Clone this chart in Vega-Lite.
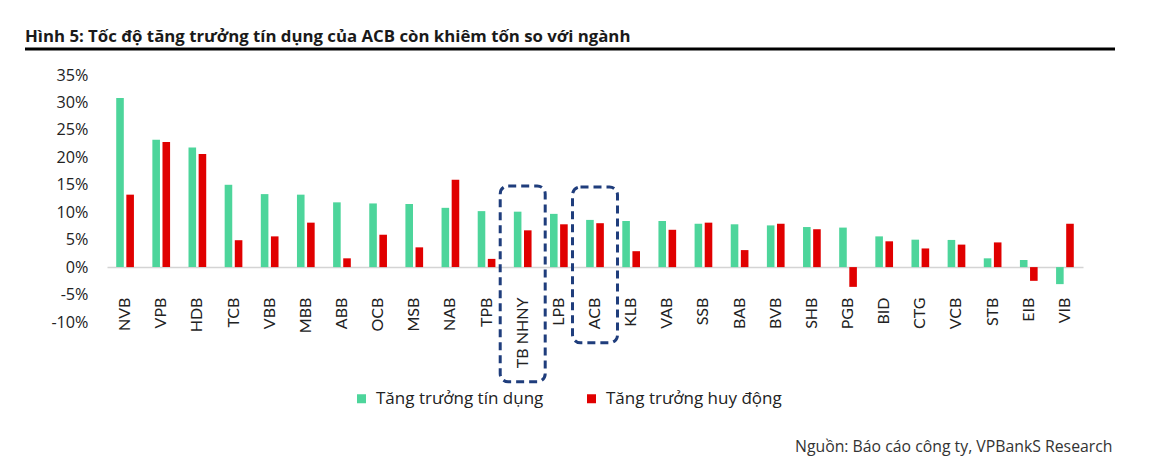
{
  "$schema": "https://vega.github.io/schema/vega-lite/v6.json",
  "width": 976,
  "height": 247,
  "autosize": {"type": "none"},
  "padding": {"left": 107, "top": 75, "right": 72, "bottom": 135},
  "background": "white",
  "config": {
    "view": {"stroke": null},
    "font": "Open Sans"
  },
  "title": {
    "text": "Hình 5: Tốc độ tăng trưởng tín dụng của ACB còn khiêm tốn so với ngành",
    "anchor": "start",
    "frame": "group",
    "dx": -82,
    "offset": -6,
    "baseline": "middle",
    "font": "Open Sans",
    "fontSize": 16.8,
    "fontWeight": "bold",
    "color": "#1a1a1a"
  },
  "layer": [
    {
      "layer": [
        {
          "data": {
            "values": [
              {"bank": "NVB", "series": "Tăng trưởng tín dụng", "value": 30.8},
              {"bank": "NVB", "series": "Tăng trưởng huy động", "value": 13.2},
              {"bank": "VPB", "series": "Tăng trưởng tín dụng", "value": 23.2},
              {"bank": "VPB", "series": "Tăng trưởng huy động", "value": 22.8},
              {"bank": "HDB", "series": "Tăng trưởng tín dụng", "value": 21.8},
              {"bank": "HDB", "series": "Tăng trưởng huy động", "value": 20.6},
              {"bank": "TCB", "series": "Tăng trưởng tín dụng", "value": 15.0},
              {"bank": "TCB", "series": "Tăng trưởng huy động", "value": 4.9},
              {"bank": "VBB", "series": "Tăng trưởng tín dụng", "value": 13.3},
              {"bank": "VBB", "series": "Tăng trưởng huy động", "value": 5.6},
              {"bank": "MBB", "series": "Tăng trưởng tín dụng", "value": 13.2},
              {"bank": "MBB", "series": "Tăng trưởng huy động", "value": 8.1},
              {"bank": "ABB", "series": "Tăng trưởng tín dụng", "value": 11.8},
              {"bank": "ABB", "series": "Tăng trưởng huy động", "value": 1.6},
              {"bank": "OCB", "series": "Tăng trưởng tín dụng", "value": 11.6},
              {"bank": "OCB", "series": "Tăng trưởng huy động", "value": 5.9},
              {"bank": "MSB", "series": "Tăng trưởng tín dụng", "value": 11.5},
              {"bank": "MSB", "series": "Tăng trưởng huy động", "value": 3.6},
              {"bank": "NAB", "series": "Tăng trưởng tín dụng", "value": 10.8},
              {"bank": "NAB", "series": "Tăng trưởng huy động", "value": 15.9},
              {"bank": "TPB", "series": "Tăng trưởng tín dụng", "value": 10.2},
              {"bank": "TPB", "series": "Tăng trưởng huy động", "value": 1.5},
              {"bank": "TB NHNY", "series": "Tăng trưởng tín dụng", "value": 10.1},
              {"bank": "TB NHNY", "series": "Tăng trưởng huy động", "value": 6.7},
              {"bank": "LPB", "series": "Tăng trưởng tín dụng", "value": 9.7},
              {"bank": "LPB", "series": "Tăng trưởng huy động", "value": 7.8},
              {"bank": "ACB", "series": "Tăng trưởng tín dụng", "value": 8.6},
              {"bank": "ACB", "series": "Tăng trưởng huy động", "value": 8.0},
              {"bank": "KLB", "series": "Tăng trưởng tín dụng", "value": 8.4},
              {"bank": "KLB", "series": "Tăng trưởng huy động", "value": 2.9},
              {"bank": "VAB", "series": "Tăng trưởng tín dụng", "value": 8.4},
              {"bank": "VAB", "series": "Tăng trưởng huy động", "value": 6.8},
              {"bank": "SSB", "series": "Tăng trưởng tín dụng", "value": 7.9},
              {"bank": "SSB", "series": "Tăng trưởng huy động", "value": 8.1},
              {"bank": "BAB", "series": "Tăng trưởng tín dụng", "value": 7.8},
              {"bank": "BAB", "series": "Tăng trưởng huy động", "value": 3.1},
              {"bank": "BVB", "series": "Tăng trưởng tín dụng", "value": 7.6},
              {"bank": "BVB", "series": "Tăng trưởng huy động", "value": 7.9},
              {"bank": "SHB", "series": "Tăng trưởng tín dụng", "value": 7.3},
              {"bank": "SHB", "series": "Tăng trưởng huy động", "value": 6.9},
              {"bank": "PGB", "series": "Tăng trưởng tín dụng", "value": 7.2},
              {"bank": "PGB", "series": "Tăng trưởng huy động", "value": -3.6},
              {"bank": "BID", "series": "Tăng trưởng tín dụng", "value": 5.6},
              {"bank": "BID", "series": "Tăng trưởng huy động", "value": 4.7},
              {"bank": "CTG", "series": "Tăng trưởng tín dụng", "value": 5.0},
              {"bank": "CTG", "series": "Tăng trưởng huy động", "value": 3.4},
              {"bank": "VCB", "series": "Tăng trưởng tín dụng", "value": 4.95},
              {"bank": "VCB", "series": "Tăng trưởng huy động", "value": 4.1},
              {"bank": "STB", "series": "Tăng trưởng tín dụng", "value": 1.6},
              {"bank": "STB", "series": "Tăng trưởng huy động", "value": 4.5},
              {"bank": "EIB", "series": "Tăng trưởng tín dụng", "value": 1.3},
              {"bank": "EIB", "series": "Tăng trưởng huy động", "value": -2.5},
              {"bank": "VIB", "series": "Tăng trưởng tín dụng", "value": -3.1},
              {"bank": "VIB", "series": "Tăng trưởng huy động", "value": 7.9}
            ]
          },
          "mark": {"type": "bar"},
          "encoding": {
            "x": {
              "field": "bank",
              "type": "nominal",
              "scale": {
                "domain": ["NVB","VPB","HDB","TCB","VBB","MBB","ABB","OCB","MSB","NAB","TPB","TB NHNY","LPB","ACB","KLB","VAB","SSB","BAB","BVB","SHB","PGB","BID","CTG","VCB","STB","EIB","VIB"],
                "paddingInner": 0.51,
                "paddingOuter": 0.255
              },
              "axis": {
                "title": "Nguồn: Báo cáo công ty, VPBankS Research",
                "titleX": 1005,
                "titleY": 179,
                "titleAlign": "right",
                "titleAnchor": null,
                "titleBaseline": "middle",
                "titleFont": "Open Sans",
                "titleFontSize": 15.8,
                "titleFontWeight": "normal",
                "titleColor": "#333333",
                "offset": -54.9,
                "domainColor": "#d4d4d4",
                "domainWidth": 1.5,
                "ticks": false,
                "tickSize": 0,
                "labelAngle": -90,
                "labelAlign": "right",
                "labelBaseline": "middle",
                "labelPadding": 30,
                "labelFont": "Lato",
                "labelFontSize": 16,
                "labelColor": "#222222"
              }
            },
            "xOffset": {
              "field": "series",
              "type": "nominal",
              "sort": ["Tăng trưởng tín dụng", "Tăng trưởng huy động"],
              "scale": {"paddingInner": 0.25, "paddingOuter": 0}
            },
            "y": {
              "field": "value",
              "type": "quantitative",
              "scale": {"domain": [-10, 35], "nice": false, "zero": false},
              "axis": {
                "title": null,
                "values": [-10, -5, 0, 5, 10, 15, 20, 25, 30, 35],
                "tickCount": 10,
                "labelExpr": "datum.value + '%'",
                "labelOverlap": false,
                "grid": false,
                "domain": false,
                "ticks": false,
                "labelPadding": 19,
                "labelFont": "Open Sans",
                "labelFontSize": 16.2,
                "labelColor": "#222222"
              }
            },
            "color": {
              "field": "series",
              "type": "nominal",
              "sort": ["Tăng trưởng tín dụng", "Tăng trưởng huy động"],
              "scale": {
                "domain": ["Tăng trưởng tín dụng", "Tăng trưởng huy động"],
                "range": ["#4dd59b", "#e00000"]
              },
              "legend": {
                "title": null,
                "orient": "none",
                "legendX": 246,
                "legendY": 315,
                "direction": "horizontal",
                "padding": 0,
                "symbolType": "square",
                "symbolSize": 81,
                "symbolStrokeWidth": 0,
                "labelFont": "Open Sans",
                "labelFontSize": 17,
                "labelColor": "#222222",
                "labelOffset": 6,
                "labelLimit": 400,
                "columnPadding": 39
              }
            }
          }
        },
        {
          "data": {
            "values": [
              {"bank": "TB NHNY", "top": 14.8, "bottom": -20.9},
              {"bank": "ACB", "top": 14.6, "bottom": -13.8}
            ]
          },
          "mark": {
            "type": "bar",
            "width": 45,
            "fill": "transparent",
            "stroke": "#1f3d7c",
            "strokeWidth": 3,
            "strokeDash": [8, 5],
            "cornerRadius": 8
          },
          "encoding": {
            "x": {"field": "bank", "type": "nominal"},
            "y": {"field": "top", "type": "quantitative"},
            "y2": {"field": "bottom"}
          }
        }
      ]
    },
    {
      "data": {"values": [{}]},
      "mark": {"type": "rule", "color": "#000000", "strokeWidth": 3},
      "encoding": {
        "x": {"datum": 0, "type": "quantitative", "scale": {"domain": [0, 1], "range": [-82, 1008]}, "axis": null},
        "x2": {"datum": 1},
        "y": {
          "datum": 39.74,
          "type": "quantitative",
          "axis": {
            "title": null,
            "values": [-10, -5, 0, 5, 10, 15, 20, 25, 30, 35],
            "tickCount": 10,
            "labelExpr": "datum.value + '%'",
            "labelOverlap": false,
            "grid": false,
            "domain": false,
            "ticks": false,
            "labelPadding": 19,
            "labelFont": "Open Sans",
            "labelFontSize": 16.2,
            "labelColor": "#222222"
          }
        }
      }
    }
  ],
  "resolve": {"scale": {"x": "independent"}}
}
